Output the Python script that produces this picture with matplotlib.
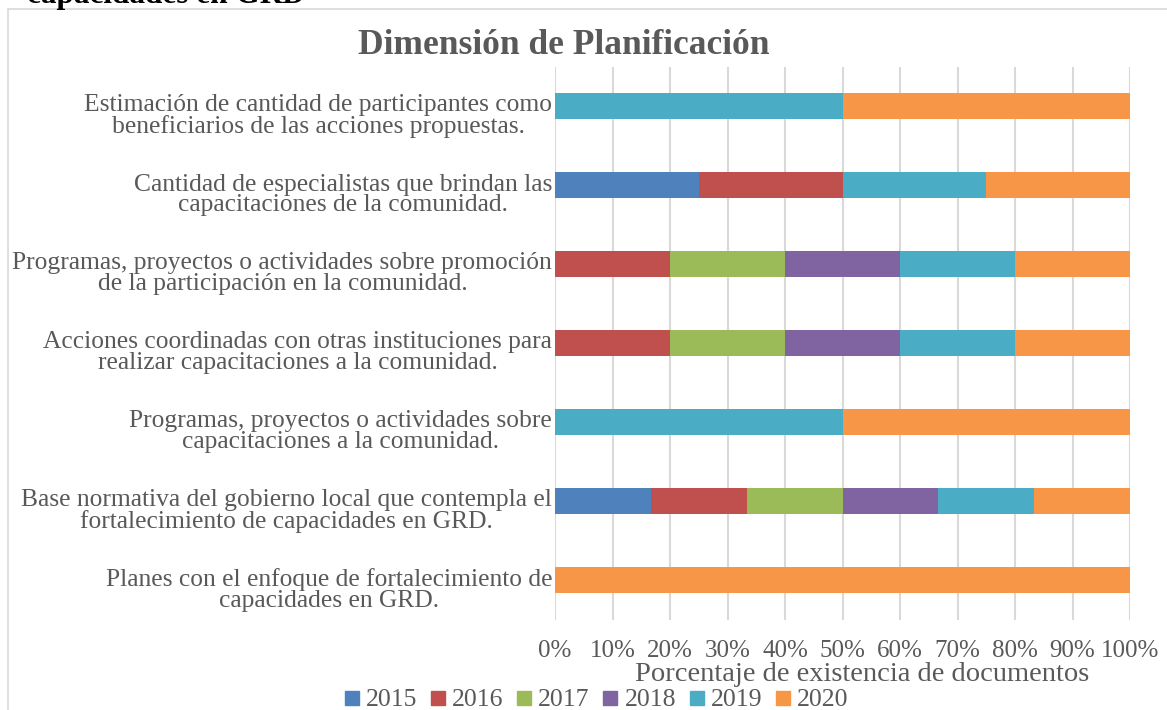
import numpy as np
import matplotlib
matplotlib.use("Agg")
import matplotlib.pyplot as plt
import matplotlib.transforms as mtransforms
from matplotlib.patches import Rectangle
from matplotlib.lines import Line2D

# categorias de abajo hacia arriba
categorias = [
    "Planes con el enfoque de fortalecimiento de\ncapacidades en GRD.",
    "Base normativa del gobierno local que contempla el\nfortalecimiento de capacidades en GRD.",
    "Programas, proyectos o actividades sobre\ncapacitaciones a la comunidad.",
    "Acciones coordinadas con otras instituciones para\nrealizar capacitaciones a la comunidad.",
    "Programas, proyectos o actividades sobre promoción\nde la participación en la comunidad.",
    "Cantidad de especialistas que brindan las\ncapacitaciones de la comunidad.",
    "Estimación de cantidad de participantes como\nbeneficiarios de las acciones propuestas.",
]
anios = ["2015", "2016", "2017", "2018", "2019", "2020"]
colores = ["#4F81BD", "#C0504D", "#9BBB59", "#8064A2", "#4BACC6", "#F79646"]

# numero de documentos por anio (cada fila se normaliza a 100%)
v2015 = [0, 1, 0, 0, 0, 1, 0]
v2016 = [0, 1, 0, 1, 1, 1, 0]
v2017 = [0, 1, 0, 1, 1, 0, 0]
v2018 = [0, 1, 0, 1, 1, 0, 0]
v2019 = [0, 1, 1, 1, 1, 1, 1]
v2020 = [1, 1, 1, 1, 1, 1, 1]

datos = np.array([v2015, v2016, v2017, v2018, v2019, v2020], dtype=float)
pct = datos / datos.sum(axis=0)

gris = "#595959"
fuente = "Liberation Serif"

fig = plt.figure(figsize=(11.67, 7.10), dpi=100)
ax = fig.add_axes([555 / 1167, 1 - 619.5 / 710, 575 / 1167, 553 / 710])

# marco del grafico
fig.patches.append(Rectangle((8 / 1167, -0.1), 1.2, 1.1 - 9 / 710,
                             transform=fig.transFigure, fill=False,
                             edgecolor="#D9D9D9", linewidth=1.2))

y = np.arange(len(categorias))
izq = np.zeros(len(categorias))
for i in range(len(anios)):
    ax.barh(y, pct[i], left=izq, height=0.33, color=colores[i], label=anios[i], zorder=3)
    izq += pct[i]

ax.set_xlim(0, 1)
ax.set_ylim(-0.5, len(categorias) - 0.5)
ax.set_xticks(np.linspace(0, 1, 11))
ax.set_xticklabels([f"{int(round(t * 100))}%" for t in np.linspace(0, 1, 11)])
ax.set_yticks(y)
ax.set_yticklabels(categorias)
ax.grid(axis="x", color="#D9D9D9", linewidth=1.5, zorder=0)
for s in ax.spines.values():
    s.set_visible(False)
ax.tick_params(axis="x", length=0, colors=gris, labelsize=18, pad=15)
ax.tick_params(axis="y", length=0, colors=gris, labelsize=18.4, pad=2)

desplaza = mtransforms.ScaledTranslation(0, -8 / 100, fig.dpi_scale_trans)
for t in ax.get_yticklabels():
    t.set_multialignment("center")
    t.set_fontfamily(fuente)
    t.set_linespacing(0.92)
    t.set_transform(t.get_transform() + desplaza)
for t in ax.get_xticklabels():
    t.set_fontfamily(fuente)

ax.set_xlabel("Porcentaje de existencia de documentos", fontsize=20.5, color=gris,
              family=fuente, labelpad=1)
ax.xaxis.set_label_coords(0.534, -0.076)

fig.text(564 / 1167, 1 - 46 / 710, "Dimensión de Planificación", fontsize=25.5,
         fontweight="bold", color=gris, family=fuente, ha="center", va="center")
fig.text(27 / 1167, 1 - 3 / 710, "capacidades en GRD", fontsize=22.5,
         fontweight="bold", color="black", family=fuente, ha="left", va="baseline")

manijas = [Line2D([], [], marker="s", linestyle="", markersize=10, color=c) for c in colores]
ley = fig.legend(manijas, anios, loc="center", bbox_to_anchor=(597 / 1167, 1 - 700 / 710),
                 ncol=6, frameon=False, handlelength=0.5, handletextpad=0.3,
                 columnspacing=0.55, prop={"family": fuente, "size": 18.5})
for t in ley.get_texts():
    t.set_color(gris)

fig.savefig("out.png", dpi=100)
